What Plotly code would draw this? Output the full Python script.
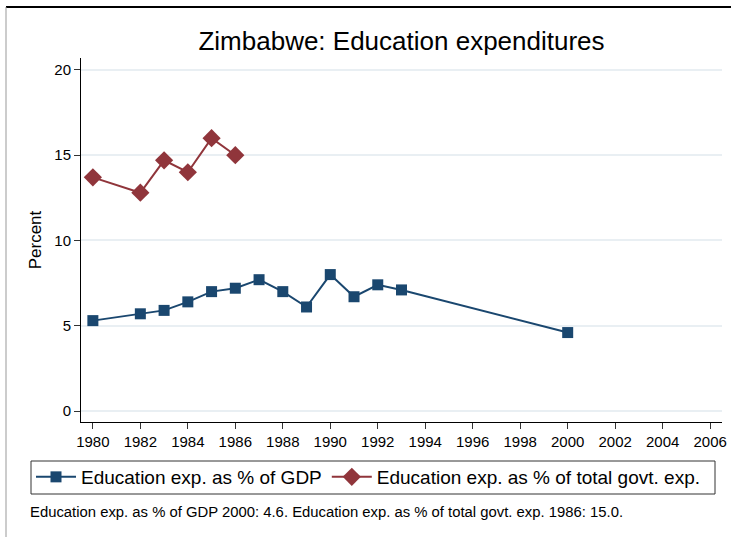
import plotly.graph_objects as go

# Data
gdp_years = [1980, 1982, 1983, 1984, 1985, 1986, 1987, 1988, 1989, 1990, 1991, 1992, 1993, 2000]
gdp_vals = [5.3, 5.7, 5.9, 6.4, 7.0, 7.2, 7.7, 7.0, 6.1, 8.0, 6.7, 7.4, 7.1, 4.6]
gov_years = [1980, 1982, 1983, 1984, 1985, 1986]
gov_vals = [13.7, 12.8, 14.7, 14.0, 16.0, 15.0]
x_ticks = list(range(1980, 2007, 2))
y_ticks = [0, 5, 10, 15, 20]

title_text = "Zimbabwe: Education expenditures"
note_text = ("Education exp. as % of GDP 2000: 4.6. "
             "Education exp. as % of total govt. exp. 1986: 15.0.")

FONT = "Liberation Sans, Arial, sans-serif"
NAVY = "#1a476f"
MAROON = "#90353b"

fig = go.Figure()
fig.add_trace(go.Scatter(
    x=gdp_years, y=gdp_vals, mode="lines+markers",
    name="Education exp. as % of GDP",
    line=dict(color=NAVY, width=2),
    marker=dict(symbol="square", size=11, color=NAVY),
))
fig.add_trace(go.Scatter(
    x=gov_years, y=gov_vals, mode="lines+markers",
    name="Education exp. as % of total govt. exp.",
    line=dict(color=MAROON, width=2),
    marker=dict(symbol="diamond", size=14, color=MAROON),
))

W, H = 731, 537
L, R, T, B = 81, 9, 58, 115
pw = W - L - R
ph = H - T - B

def px_to_paper_x(px):
    return (px - L) / pw

def px_to_paper_y(py):
    return (H - B - py) / ph

fig.update_layout(
    width=W, height=H,
    margin=dict(l=L, r=R, t=T, b=B, autoexpand=False),
    paper_bgcolor="white", plot_bgcolor="white",
    font=dict(family=FONT, color="#000000"),
    title=dict(text=title_text, x=0.5, xref="paper", xanchor="center",
               y=1 - 41 / H, yref="container", yanchor="middle",
               font=dict(size=26, family=FONT, color="#000000")),
    xaxis=dict(range=[1979.5, 2006.5], tickmode="array", tickvals=x_ticks,
               ticks="outside", ticklen=6, tickcolor="#333333", tickwidth=1,
               showline=True, linecolor="#000000", linewidth=1,
               showgrid=False, zeroline=False, automargin=False,
               tickfont=dict(size=15, family=FONT, color="#000000")),
    yaxis=dict(range=[-0.645, 20.7], tickmode="array", tickvals=y_ticks,
               ticks="outside", ticklen=6, tickcolor="#333333", tickwidth=1,
               showline=True, linecolor="#000000", linewidth=1,
               showgrid=True, gridcolor="#e9eff3", gridwidth=1.5,
               zeroline=False, automargin=False,
               title=dict(text="Percent", standoff=8,
                          font=dict(size=17, family=FONT, color="#000000")),
               tickfont=dict(size=15, family=FONT, color="#000000")),
    legend=dict(orientation="h", xref="paper", yref="paper",
                x=px_to_paper_x(31), xanchor="left",
                y=px_to_paper_y(477), yanchor="middle",
                borderwidth=0, bgcolor="rgba(0,0,0,0)",
                font=dict(size=19, family=FONT, color="#000000"),
                itemwidth=40, traceorder="normal"),
    showlegend=True,
    annotations=[dict(
        text=note_text, xref="paper", yref="paper",
        x=px_to_paper_x(28), y=px_to_paper_y(512),
        xanchor="left", yanchor="middle", showarrow=False,
        font=dict(size=14.85, family=FONT, color="#000000"))],
    shapes=[
        dict(type="line", xref="paper", yref="paper",
             x0=px_to_paper_x(6), x1=px_to_paper_x(740),
             y0=px_to_paper_y(7), y1=px_to_paper_y(7),
             line=dict(color="#000000", width=2)),
        dict(type="line", xref="paper", yref="paper",
             x0=px_to_paper_x(6), x1=px_to_paper_x(6),
             y0=px_to_paper_y(7), y1=px_to_paper_y(545),
             line=dict(color="#999999", width=1)),
        dict(type="rect", xref="paper", yref="paper",
             x0=px_to_paper_x(31), x1=px_to_paper_x(715),
             y0=px_to_paper_y(461), y1=px_to_paper_y(494),
             line=dict(color="#333333", width=1), fillcolor="rgba(0,0,0,0)"),
    ],
)

fig.write_html("out.html", config={"displayModeBar": False},
               post_script="document.body.style.margin='0';")
